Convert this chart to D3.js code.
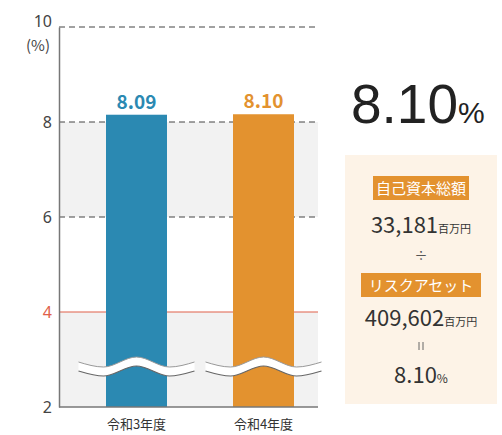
<!DOCTYPE html>
<html>
<head>
<meta charset="utf-8">
<script src="https://cdn.jsdelivr.net/npm/d3@7"></script>
<style>
body { margin: 0; background: #fff; }
text { font-family: "Noto Sans CJK JP", "Noto Sans", sans-serif; }
</style>
</head>
<body>
<svg id="paper" width="502" height="435"></svg>
<script>
// data
var years = ["令和3年度", "令和4年度"];
var ratios = [8.09, 8.10];
var barColors = ["#2b89b2", "#e3922f"];
var yTicks = [2, 4, 6, 8, 10];
var greyBands = [[6, 8], [2, 4]];
var baseLine = 4;

var capitalLabel = "自己資本総額";
var capitalValue = "33,181";
var riskLabel = "リスクアセット";
var riskValue = "409,602";
var unitLabel = "百万円";
var resultValue = "8.10";

var svg = d3.select("#paper");

var x = d3.scalePoint().domain(years).range([136.5, 263.5]);
var barW = 61;
var y = d3.scaleLinear().domain([2, 10]).range([407, 27]);

// bands
svg.selectAll("rect.band").data(greyBands).enter().append("rect")
    .attr("class", "band")
    .attr("x", 59)
    .attr("y", function (d) { return y(d[1]); })
    .attr("width", 318 - 59)
    .attr("height", function (d) { return y(d[0]) - y(d[1]); })
    .attr("fill", "#f2f2f2");

// grid
svg.selectAll("line.grid").data([6, 8, 10]).enter().append("line")
    .attr("class", "grid")
    .attr("x1", 59).attr("x2", 318)
    .attr("y1", function (d) { return y(d); })
    .attr("y2", function (d) { return y(d); })
    .attr("stroke", "#444")
    .attr("stroke-width", 1)
    .attr("stroke-dasharray", "6,4");

svg.append("line")
    .attr("x1", 59).attr("x2", 318)
    .attr("y1", y(baseLine)).attr("y2", y(baseLine))
    .attr("stroke", "#e0604a").attr("stroke-width", 1.2);

// bars
svg.selectAll("rect.bar").data(ratios).enter().append("rect")
    .attr("class", "bar")
    .attr("x", function (d, i) { return x(years[i]) - barW / 2; })
    .attr("y", function (d) { return y(d) - 3; })
    .attr("width", barW)
    .attr("height", function (d) { return y(2) - y(d) + 3; })
    .attr("fill", function (d, i) { return barColors[i]; });

svg.selectAll("text.val").data(ratios).enter().append("text")
    .attr("class", "val")
    .attr("x", function (d, i) { return x(years[i]); })
    .attr("y", function (d) { return y(d) - 9; })
    .attr("text-anchor", "middle")
    .attr("font-size", 19)
    .attr("font-weight", "bold")
    .attr("fill", function (d, i) { return barColors[i]; })
    .text(function (d) { return d.toFixed(2); });

// wave breaks (decoration on the axis break)
var waveShape = [[-58, 0], [-33, 5], [0, -5], [33, 5], [58, 0]];
var waveLine = d3.line().curve(d3.curveMonotoneX);
years.forEach(function (yr) {
    var cx = x(yr);
    var cy = 362;
    var top = waveShape.map(function (p) { return [cx + p[0], cy + p[1]]; });
    var bottom = waveShape.map(function (p) { return [cx + p[0], cy + p[1] + 9]; });
    var band = waveLine(top) + "L" + waveLine(bottom.slice().reverse()).slice(1) + "Z";
    svg.append("path").attr("d", band).attr("fill", "#fff");
    svg.append("path").attr("d", waveLine(top)).attr("fill", "none").attr("stroke", "#999").attr("stroke-width", 1);
    svg.append("path").attr("d", waveLine(bottom)).attr("fill", "none").attr("stroke", "#666").attr("stroke-width", 1.2);
});

// axes
var yAxis = svg.append("g").attr("transform", "translate(59,0)")
    .call(d3.axisLeft(y).tickValues(yTicks).tickSize(0).tickPadding(7));
yAxis.select(".domain").attr("stroke", "#777").attr("stroke-width", 1.5);
yAxis.selectAll("text")
    .attr("font-size", 16)
    .attr("fill", function (d) { return d === baseLine ? "#e0604a" : "#444"; })
    .attr("dy", function (d) { return d === 10 ? "-0.05em" : "0.32em"; })
    .style("font-family", "'Noto Sans', sans-serif");

svg.append("line").attr("x1", 59).attr("x2", 318).attr("y1", y(2)).attr("y2", y(2))
    .attr("stroke", "#777").attr("stroke-width", 1.5);

svg.append("text").attr("x", 38).attr("y", 51).attr("text-anchor", "middle")
    .attr("font-size", 15).attr("fill", "#444").text("(%)");

svg.selectAll("text.cat").data(years).enter().append("text")
    .attr("class", "cat")
    .attr("x", function (d) { return x(d); })
    .attr("y", 429)
    .attr("text-anchor", "middle")
    .attr("font-size", 13)
    .attr("fill", "#333")
    .text(function (d) { return d; });

// right side
var big = svg.append("text").attr("x", 351).attr("y", 123).attr("fill", "#222");
big.append("tspan").attr("font-size", 55).attr("font-family", "'Liberation Sans', sans-serif").text(resultValue);
big.append("tspan").attr("font-size", 30).attr("font-family", "'Liberation Sans', sans-serif").text("%");

svg.append("rect").attr("x", 345).attr("y", 155).attr("width", 152).attr("height", 249).attr("fill", "#fdf3e7");

var cx = 421;
function tag(label, y0, w) {
    svg.append("rect").attr("x", cx - w / 2).attr("y", y0).attr("width", w).attr("height", 24).attr("fill", "#e3922f");
    svg.append("text").attr("x", cx).attr("y", y0 + 18).attr("text-anchor", "middle")
        .attr("font-size", 15).attr("fill", "#fff").text(label);
}
function amount(val, yb) {
    var t = svg.append("text").attr("x", cx).attr("y", yb).attr("text-anchor", "middle").attr("fill", "#333");
    t.append("tspan").attr("font-size", 22).text(val);
    t.append("tspan").attr("font-size", 11).text(unitLabel);
}
tag(capitalLabel, 176, 96);
amount(capitalValue, 233);
svg.append("text").attr("x", cx).attr("y", 260).attr("text-anchor", "middle").attr("font-size", 13).attr("fill", "#555").text("÷");
tag(riskLabel, 273, 120);
amount(riskValue, 326);
[-2, 2].forEach(function (d) {
    svg.append("line").attr("x1", cx + d).attr("x2", cx + d).attr("y1", 342).attr("y2", 350).attr("stroke", "#666").attr("stroke-width", 1);
});
var res = svg.append("text").attr("x", cx).attr("y", 383).attr("text-anchor", "middle").attr("fill", "#333");
res.append("tspan").attr("font-size", 22).text(resultValue);
res.append("tspan").attr("font-size", 12).text("%");
</script>
</body>
</html>
